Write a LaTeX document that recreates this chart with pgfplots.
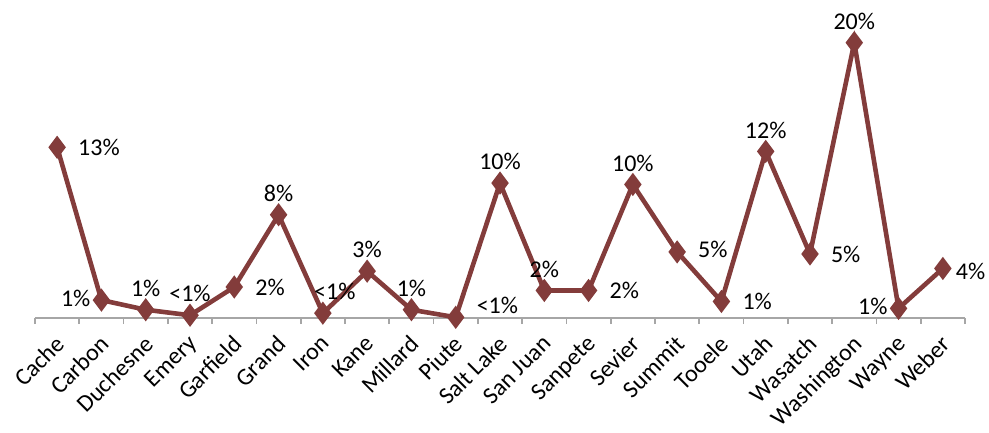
\documentclass[border=0pt]{standalone}
\usepackage{pgfplots}
\pgfplotsset{compat=1.18}
\usepackage{fontspec}
\setmainfont{Carlito}
\definecolor{wine}{HTML}{833C3B}
\begin{document}
\begin{tikzpicture}
\begin{axis}[name=ax,
  scale only axis, width=465pt, height=148pt,
  xmin=-0.5, xmax=20.5, ymin=0, ymax=21.5,
  axis x line=bottom, axis y line=none,
  axis line style={-, draw=gray!70, line width=0.8pt},
  xtick={0,...,20},
  xticklabels={Cache,Carbon,Duchesne,Emery,Garfield,Grand,Iron,Kane,Millard,Piute,Salt Lake,San Juan,Sanpete,Sevier,Summit,Tooele,Utah,Wasatch,Washington,Wayne,Weber},
  major tick length=0pt,
  minor xtick={-0.5,0.5,...,20.5},
  minor tick length=3pt, tick align=outside,
  minor tick style={draw=gray!70, line width=0.8pt},
  xticklabel style={xshift=-1.5pt, yshift=-7pt, rotate=45, anchor=north east, inner sep=0.5pt, font=\fontsize{12}{15}\selectfont},
  clip=false,
  nodes near coords style={font=\fontsize{12}{14}\selectfont, text=black},
]
\addplot[wine, line width=2.3pt, mark=diamond*, mark size=5pt, mark options={fill=wine, line width=1pt}] coordinates {
(0,12.4) (1,1.3) (2,0.6) (3,0.2) (4,2.25) (5,7.5) (6,0.35) (7,3.4) (8,0.6) (9,0.05)
(10,9.8) (11,2.0) (12,2.0) (13,9.7) (14,4.8) (15,1.2) (16,12.1) (17,4.65) (18,20.0) (19,0.7) (20,3.6)};
% labels above
\addplot[draw=none, mark=none, point meta=explicit symbolic, nodes near coords, nodes near coords align={above}, nodes near coords style={yshift=3pt}] coordinates {
(2,0.6) [1\%] (3,0.2) [<1\%] (5,7.5) [8\%] (7,3.4) [3\%] (8,0.6) [1\%]
(10,9.8) [10\%] (11,2.0) [2\%] (13,9.7) [10\%] (16,12.1) [12\%] (18,20.0) [20\%]};
\addplot[draw=none, mark=none, point meta=explicit symbolic, nodes near coords, nodes near coords align={above}, nodes near coords style={yshift=3pt, xshift=6pt}] coordinates {
(6,0.35) [<1\%]};
% labels right
\addplot[draw=none, mark=none, point meta=explicit symbolic, nodes near coords, nodes near coords style={anchor=west, xshift=7pt}] coordinates {
(0,12.4) [13\%] (4,2.25) [2\%] (9,0.9) [<1\%] (12,2.0) [2\%] (14,5.0) [5\%] (15,1.2) [1\%] (17,4.65) [5\%]};
\addplot[draw=none, mark=none, point meta=explicit symbolic, nodes near coords, nodes near coords style={anchor=west, xshift=3pt}] coordinates {
(20,3.4) [4\%]};
% labels left
\addplot[draw=none, mark=none, point meta=explicit symbolic, nodes near coords, nodes near coords style={anchor=east, xshift=-2pt}] coordinates {
(1,1.4) [1\%] (19,0.85) [1\%]};
\end{axis}
\pgfresetboundingbox
\path ([xshift=-17.5pt, yshift=-57.5pt]ax.south west) rectangle ([xshift=12pt, yshift=11pt]ax.north east);
\end{tikzpicture}
\end{document}
